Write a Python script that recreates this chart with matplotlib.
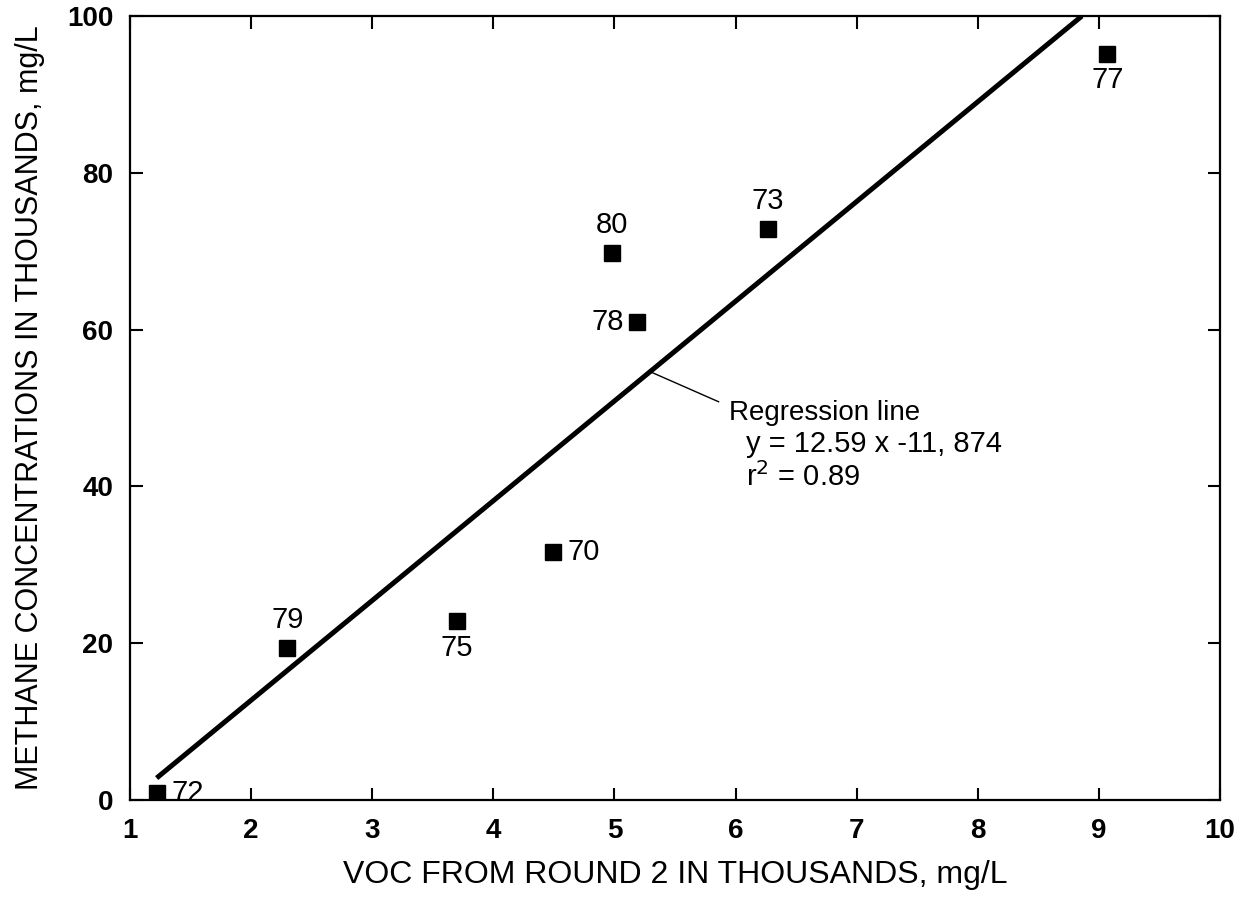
import matplotlib.pyplot as plt

# VOC (thousands mg/L) vs methane (thousands mg/L), one value per well
well_ids = ['72', '79', '75', '70', '80', '78', '73', '77']
voc = [1.22, 2.30, 3.70, 4.49, 4.98, 5.19, 6.27, 9.07]
methane = [0.9, 19.4, 22.8, 31.6, 69.8, 61.0, 72.8, 95.2]

# regression line end points
line_x = [1.22, 8.86]
line_y = [2.8, 100.0]

x_ticks = [1, 2, 3, 4, 5, 6, 7, 8, 9, 10]
y_ticks = [0, 20, 40, 60, 80, 100]

plt.rcParams['font.family'] = ['Liberation Sans', 'DejaVu Sans']

fig = plt.figure(figsize=(12.56, 9.01), dpi=100)
ax = fig.add_axes([0.1035, 0.1121, 0.8678, 0.8701])

ax.plot(line_x, line_y, color='black', lw=3.6, solid_capstyle='butt', zorder=2)
ax.plot(voc, methane, 's', color='black', ms=11, zorder=3)

# label offsets (points) and alignment for each well number
offsets = {'72': (11, 0, 'left', 'center'),
           '79': (0, 10, 'center', 'bottom'),
           '75': (0, -9, 'center', 'top'),
           '70': (11, 0, 'left', 'center'),
           '80': (0, 10, 'center', 'bottom'),
           '78': (-10, 0, 'right', 'center'),
           '73': (0, 10, 'center', 'bottom'),
           '77': (0, -9, 'center', 'top')}
for wid, x, y in zip(well_ids, voc, methane):
    dx, dy, ha, va = offsets[wid]
    ax.annotate(wid, (x, y), xytext=(dx, dy), textcoords='offset points',
                ha=ha, va=va, fontsize=21)

# leader line and regression text
ax.plot([5.30, 5.86], [54.6, 50.8], color='black', lw=1.0)
ax.text(5.95, 49.4, 'Regression line', fontsize=20, va='center', ha='left')
ax.text(6.09, 45.4, 'y = 12.59 x -11, 874', fontsize=21, va='center', ha='left')
ax.text(6.09, 41.2, 'r$^2$ = 0.89', fontsize=21, va='center', ha='left')

ax.set_xlim(1, 10)
ax.set_ylim(0, 100)
ax.set_xticks(x_ticks)
ax.set_yticks(y_ticks)
ax.tick_params(direction='in', length=9, width=1.5, top=True, right=True,
               labelsize=20)
ax.tick_params(axis='x', pad=13)
ax.tick_params(axis='y', pad=12)
for lab in ax.get_xticklabels() + ax.get_yticklabels():
    lab.set_fontweight('bold')
for sp in ax.spines.values():
    sp.set_linewidth(1.6)

ax.set_xlabel('VOC FROM ROUND 2 IN THOUSANDS, mg/L', fontsize=23)
ax.set_ylabel('METHANE CONCENTRATIONS IN THOUSANDS, mg/L', fontsize=22)
ax.xaxis.set_label_coords(0.5, -0.076)
ax.yaxis.set_label_coords(-0.078, 0.5)

fig.savefig('out.png', dpi=100)
